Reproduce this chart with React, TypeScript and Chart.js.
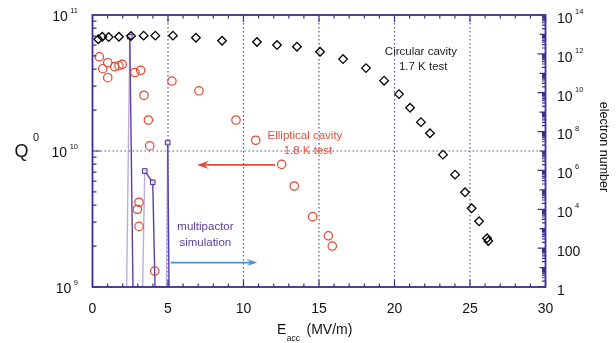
import React, { useEffect, useRef } from 'react';
import { Chart, registerables } from 'chart.js';

Chart.register(...registerables);

// Circular cavity, 1.7 K test (E_acc in MV/m, Q0)
const circularE = [0.38, 0.65, 1.07, 1.75, 2.55, 3.39, 4.16, 5.33, 6.85, 8.58, 10.89, 12.22, 13.54, 15.07, 16.59, 18.11, 19.31, 20.3, 21.03, 21.75, 22.35, 23.21, 24.01, 24.67, 25.11, 25.6, 26.13, 26.21];
const circularQ = [6.63e10, 6.92e10, 6.88e10, 6.92e10, 7.01e10, 7.05e10, 7.05e10, 7.05e10, 6.81e10, 6.47e10, 6.33e10, 6.01e10, 5.85e10, 5.37e10, 4.74e10, 4.07e10, 3.29e10, 2.62e10, 2.08e10, 1.63e10, 1.35e10, 9.4e9, 6.7e9, 4.97e9, 3.79e9, 3.04e9, 2.28e9, 2.18e9];

// Elliptical cavity, 1.8 K test
const ellipticalE = [0.45, 0.68, 1.01, 1.01, 1.47, 1.75, 1.97, 2.81, 3.19, 3.41, 3.7, 3.79, 3.08, 2.97, 3.08, 4.12, 5.26, 7.05, 9.5, 10.81, 12.53, 13.36, 14.58, 15.62, 15.88];
const ellipticalQ = [4.93e10, 4.03e10, 4.46e10, 3.46e10, 4.17e10, 4.24e10, 4.34e10, 3.77e10, 3.92e10, 2.57e10, 1.69e10, 1.09e10, 4.2e9, 3.73e9, 2.79e9, 1.31e9, 3.27e10, 2.77e10, 1.69e10, 1.2e10, 7.98e9, 5.53e9, 3.29e9, 2.38e9, 2.0e9];

// Multipactor simulation (electron number, right axis)
const multipactorE = [2.26, 2.47, 2.68, 3.32, 3.46, 3.99, 4.14, 4.9, 4.98, 5.07];
const multipactorN = [1, 7.6e12, 1, 1, 9.3e5, 2.45e5, 1, 1, 2.7e7, 1];

// Axes
const xTicks = [0, 5, 10, 15, 20, 25, 30];
const xGridLines = [5, 10, 15, 20, 25];
const qExponents = [9, 10, 11];
const qGridLines = [1e10];
const nExponents = [0, 2, 4, 6, 8, 10, 12, 14];

// Annotations (data coordinates)
const notes = [
  { text: 'Circular cavity', x: 21.75, y: 5.37e10, color: '#222222' },
  { text: '1.7 K test', x: 21.9, y: 4.17e10, color: '#222222' },
  { text: 'Elliptical cavity', x: 14.07, y: 1.3e10, color: '#e4503f' },
  { text: '1.8 K test', x: 14.27, y: 1.005e10, color: '#e4503f' },
  { text: 'multipactor', x: 7.48, y: 2.77e9, color: '#5a3fa3' },
  { text: 'simulation', x: 7.47, y: 2.13e9, color: '#5a3fa3' },
];
const redArrow = { x0: 12.1, x1: 6.92, q: 7.9e9 };
const blueArrow = { x0: 5.18, x1: 10.91, n: 18 };

const AX = '#3f2d91';
const GRID = '#5d49ad';
const FONT = (px: number) => `${px}px "Liberation Sans", Arial, sans-serif`;

function drawArrow(ctx: CanvasRenderingContext2D, x0: number, y0: number, x1: number, y1: number, color: string, len: number, half: number) {
  const ang = Math.atan2(y1 - y0, x1 - x0);
  ctx.save();
  ctx.setLineDash([]);
  ctx.strokeStyle = color;
  ctx.lineWidth = 1.6;
  ctx.beginPath();
  ctx.moveTo(x0, y0);
  ctx.lineTo(x1 - Math.cos(ang) * len * 0.6, y1 - Math.sin(ang) * len * 0.6);
  ctx.stroke();
  ctx.translate(x1, y1);
  ctx.rotate(ang);
  ctx.fillStyle = color;
  ctx.beginPath();
  ctx.moveTo(0, 0);
  ctx.lineTo(-len, -half);
  ctx.lineTo(-len * 0.62, 0);
  ctx.lineTo(-len, half);
  ctx.closePath();
  ctx.fill();
  ctx.restore();
}

const decor = {
  id: 'decor',
  beforeDatasetsDraw(chart: any) {
    const { ctx, chartArea: a, scales } = chart;
    const xs = scales.x, ys = scales.y;
    ctx.save();
    ctx.strokeStyle = GRID;
    ctx.lineWidth = 1.2;
    ctx.setLineDash([1.5, 2.5]);
    for (const v of xGridLines) {
      const px = xs.getPixelForValue(v);
      ctx.beginPath(); ctx.moveTo(px, a.top); ctx.lineTo(px, a.bottom); ctx.stroke();
    }
    for (const v of qGridLines) {
      const py = ys.getPixelForValue(v);
      ctx.beginPath(); ctx.moveTo(a.left, py); ctx.lineTo(a.right, py); ctx.stroke();
    }
    ctx.restore();
  },
  afterDatasetsDraw(chart: any) {
    const { ctx, chartArea: a, scales } = chart;
    const xs = scales.x, ys = scales.y, y2 = scales.y2;
    ctx.save();
    ctx.setLineDash([]);
    // ticks
    ctx.strokeStyle = AX;
    ctx.lineWidth = 1.2;
    ctx.beginPath();
    for (let v = 0; v <= 30; v++) {
      const px = xs.getPixelForValue(v);
      const len = v % 5 === 0 ? 7 : 3.5;
      ctx.moveTo(px, a.bottom); ctx.lineTo(px, a.bottom - len);
      ctx.moveTo(px, a.top); ctx.lineTo(px, a.top + len);
    }
    for (let e = qExponents[0]; e < qExponents[qExponents.length - 1]; e++) {
      for (let m = 1; m <= 9; m++) {
        const py = ys.getPixelForValue(m * 10 ** e);
        const len = m === 1 ? 8 : 4;
        ctx.moveTo(a.left, py); ctx.lineTo(a.left + len, py);
      }
    }
    for (let e = 0; e < 14; e++) {
      for (let m = 1; m <= 9; m++) {
        const py = y2.getPixelForValue(m * 10 ** e);
        const len = m === 1 ? (e % 2 === 0 ? 8 : 6) : 3.5;
        ctx.moveTo(a.right, py); ctx.lineTo(a.right - len, py);
      }
    }
    ctx.stroke();
    // frame
    ctx.lineWidth = 1.8;
    ctx.strokeRect(a.left, a.top, a.right - a.left, a.bottom - a.top);

    // tick labels
    ctx.fillStyle = '#111111';
    ctx.textBaseline = 'middle';
    ctx.textAlign = 'center';
    ctx.font = FONT(14);
    for (const v of xTicks) {
      ctx.fillText(String(v), xs.getPixelForValue(v), a.bottom + 22);
    }
    for (const e of qExponents) {
      const py = ys.getPixelForValue(10 ** e);
      const sup = String(e);
      ctx.font = FONT(7.5);
      const sw = ctx.measureText(sup).width;
      ctx.textAlign = 'right';
      const xr = a.left - 14.5;
      ctx.fillText(sup, xr, py - 4);
      ctx.font = FONT(14);
      ctx.fillText('10', xr - sw - 2.5, py + 2);
    }
    for (const e of nExponents) {
      const py = y2.getPixelForValue(10 ** e);
      const x0 = a.right + 11.5;
      ctx.textAlign = 'left';
      ctx.font = FONT(14);
      if (e === 0) { ctx.fillText('1', x0, py + 4); continue; }
      if (e === 2) { ctx.fillText('100', x0, py + 4); continue; }
      ctx.fillText('10', x0, py + 4);
      const w = ctx.measureText('10').width;
      ctx.font = FONT(7.5);
      ctx.fillText(String(e), x0 + w + 2.5, py - 3);
    }

    // axis titles
    ctx.textAlign = 'left';
    ctx.font = FONT(18);
    ctx.fillText('Q', 14.5, 152);
    ctx.font = FONT(11);
    ctx.fillText('0', 33, 138);

    ctx.font = FONT(14);
    const ex = 277;
    ctx.fillText('E', ex, 330);
    const ew = ctx.measureText('E').width;
    ctx.font = FONT(8.5);
    ctx.fillText('acc', ex + ew + 0.5, 339);
    ctx.font = FONT(14);
    ctx.fillText('(MV/m)', 306.5, 330);

    ctx.save();
    ctx.translate(603, 147);
    ctx.rotate(Math.PI / 2);
    ctx.textAlign = 'center';
    ctx.font = FONT(12.5);
    ctx.fillText('electron number', 0, 0);
    ctx.restore();

    // notes
    ctx.textAlign = 'center';
    ctx.font = FONT(11.5);
    for (const n of notes) {
      ctx.fillStyle = n.color;
      ctx.fillText(n.text, xs.getPixelForValue(n.x), ys.getPixelForValue(n.y));
    }

    // arrows
    const ry = ys.getPixelForValue(redArrow.q);
    drawArrow(ctx, xs.getPixelForValue(redArrow.x0), ry, xs.getPixelForValue(redArrow.x1), ry, '#e5473c', 12, 4.2);
    const by = y2.getPixelForValue(blueArrow.n);
    drawArrow(ctx, xs.getPixelForValue(blueArrow.x0), by, xs.getPixelForValue(blueArrow.x1), by, '#4a90d0', 10.5, 3.5);
    ctx.restore();
  },
};

export default function App() {
  const ref = useRef<HTMLCanvasElement | null>(null);
  useEffect(() => {
    if (!ref.current) return;
    const chart = new Chart(ref.current, {
      type: 'scatter',
      data: {
        datasets: [
          {
            label: 'Circular cavity 1.7 K test',
            data: circularE.map((x, i) => ({ x, y: circularQ[i] })),
            yAxisID: 'y',
            pointStyle: 'rectRot',
            pointRadius: 4.3,
            borderColor: '#000000',
            backgroundColor: 'rgba(255,255,255,0)',
            borderWidth: 1.3,
            showLine: false,
          },
          {
            label: 'Elliptical cavity 1.8 K test',
            data: ellipticalE.map((x, i) => ({ x, y: ellipticalQ[i] })),
            yAxisID: 'y',
            pointStyle: 'circle',
            pointRadius: 4.2,
            borderColor: '#e2452f',
            backgroundColor: 'rgba(255,255,255,0)',
            borderWidth: 1.2,
            showLine: false,
          },
          {
            label: 'multipactor simulation',
            data: multipactorE.map((x, i) => ({ x, y: multipactorN[i] })),
            yAxisID: 'y2',
            showLine: true,
            borderWidth: 1.4,
            borderColor: '#5b3f9f',
            segment: {
              borderColor: (c: any) => (c.p1.parsed.y > c.p0.parsed.y ? 'rgba(140,120,200,0.6)' : '#5b3f9f'),
            },
            pointStyle: 'rect',
            pointRadius: multipactorN.map((n) => (n > 1 ? 3.3 : 0)),
            pointBorderColor: '#4b2f95',
            pointBackgroundColor: 'rgba(225,215,245,0.9)',
            pointBorderWidth: 1,
          } as any,
        ],
      },
      options: {
        responsive: false,
        maintainAspectRatio: false,
        devicePixelRatio: 1,
        animation: false,
        layout: { padding: { left: 92.5, right: 70.5, top: 15, bottom: 56 } },
        plugins: { legend: { display: false }, tooltip: { enabled: false } },
        scales: {
          x: { type: 'linear', min: 0, max: 30, display: false },
          y: { type: 'logarithmic', min: 1e9, max: 1e11, display: false },
          y2: { type: 'logarithmic', position: 'right', min: 1, max: 1e14, display: false },
        },
      },
      plugins: [decor],
    });
    return () => chart.destroy();
  }, []);
  return (
    <div style={{ position: 'absolute', left: 0, top: 0, width: 616, height: 343, background: '#ffffff' }}>
      <canvas ref={ref} width={616} height={343} style={{ display: 'block', width: 616, height: 343 }} />
    </div>
  );
}
